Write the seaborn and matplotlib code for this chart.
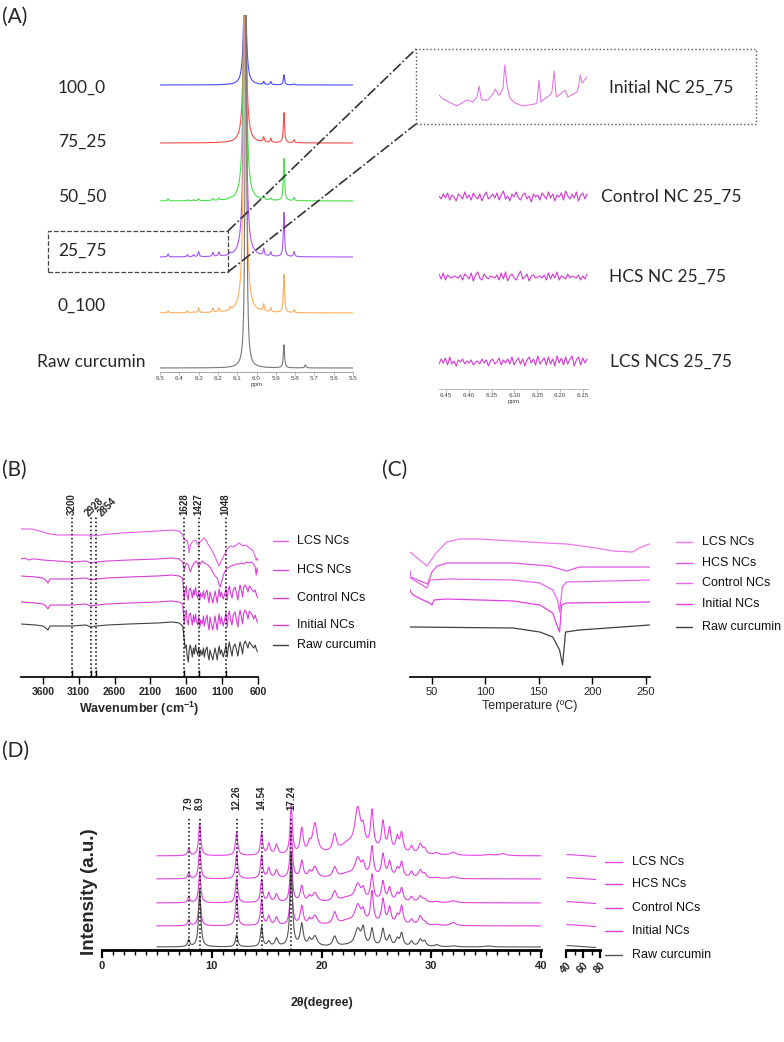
import numpy as np
import matplotlib
matplotlib.use("Agg")
import matplotlib.pyplot as plt
import seaborn as sns
from matplotlib.patches import Rectangle
from matplotlib.lines import Line2D

# ======================= DATA =======================
# ---- (A) 1H-NMR, stacked spectra ----
nmr_labels = ["100_0", "75_25", "50_50", "25_75", "0_100", "Raw curcumin"]
nmr_main_ppm = [6.06, 6.06, 6.06, 6.06, 6.06, 6.055]
nmr_main_height = [120, 200, 300, 300, 350, 500]
nmr_minor_ppm = [6.458, 6.358, 6.326, 6.300, 6.226, 6.195, 6.137, 5.963, 5.926, 5.858, 5.805, 5.747]
nmr_minor_100_0 = [0, 0, 0, 0, 0, 0, 0, 3, 3, 10, 1, 0]
nmr_minor_75_25 = [0, 0, 0, 0, 0, 0, 0, 5, 4, 30, 3, 0]
nmr_minor_50_50 = [2, 1, 1, 2, 2, 2, 1, 3, 2, 42, 3, 0]
nmr_minor_25_75 = [3, 2, 2, 5, 4, 4, 2, 7, 4, 44, 5, 0]
nmr_minor_0_100 = [2, 2, 1, 5, 4, 4, 3, 7, 4, 38, 3, 0]
nmr_minor_raw = [0, 0, 0, 0, 0, 0, 0, 0, 0, 23, 0, 3]
nmr_ticks = [6.5, 6.4, 6.3, 6.2, 6.1, 6.0, 5.9, 5.8, 5.7, 5.6, 5.5]

# ---- (A) zoomed 25_75 region ----
inset_labels = ["Initial NC 25_75", "Control NC 25_75", "HCS NC 25_75", "LCS NCS 25_75"]
ini_ppm = [6.465, 6.456, 6.426, 6.404, 6.391, 6.382, 6.377, 6.373, 6.371, 6.358,
           6.347, 6.342, 6.336, 6.332, 6.325, 6.321, 6.316, 6.310, 6.299, 6.281,
           6.255, 6.251, 6.246, 6.242, 6.240, 6.222, 6.218, 6.213, 6.209, 6.207,
           6.189, 6.183, 6.163, 6.159, 6.156, 6.152, 6.141]
ini_val = [5, 1, -6, 0, -2, 3, 14, 2, 0, 0,
           6, 11, 6, 5, 12, 35, 14, 2, -3, -6,
           -4, -3, 20, -2, -1, 5, 8, 29, 5, 3,
           10, 3, 8, 15, 25, 17, 23]
ctrl_noise = [1, -2, 3, -1, 4, -3, 2, 0, -4, 3, 1, -2, 5, -1, 2, -3, 4, 0, -2, 3,
              -4, 1, 5, -2, 0, 3, -1, 4, -3, 2, 6, -2, 1, -4, 3, 0, 5, -1, -3, 2,
              4, -2, 1, -5, 3, 0, 2, -3, 4, 1, -2, 5, -1, 3, -4, 2, 0, 4, -3, 6,
              1, -2, 3, -1, 5, -4, 2, 4, -2, 3]
hcs_noise = [3, -2, 4, -3, 2, 0, -1, 1, 0, -1, 2, -3, 3, 1, -2, 4, -4, 2, 5, -1,
             -3, 3, 0, -2, 1, 0, -1, 2, -3, 4, -2, 5, -4, 1, 3, -1, -3, 2, 6, -2,
             0, 3, -4, 1, 2, -1, 0, 1, -1, 2, -3, 4, -2, 3, -1, 5, -3, 1, 0, -2,
             3, -1, 1, 0, -1, 2, -3, 1, -2, 3]
lcs_noise = [-2, 3, -1, 4, -3, 5, -2, 1, -4, 2, 0, 3, -2, 1, -1, 2, -3, 0, 1, -2,
             3, -1, 2, -4, 1, 3, -2, 0, 4, -3, 2, -1, 3, -2, 5, -3, 1, 4, -2, 3,
             -4, 2, 5, -1, 3, -3, 6, -2, 1, 4, -3, 5, -2, 3, -4, 6, -1, 4, -3, 5,
             -2, 3, 6, -4, 2, 5, -3, 4, -1, 3]
inset_ticks = [6.45, 6.40, 6.35, 6.30, 6.25, 6.20, 6.15]

# ---- (B) FTIR ----
ftir_labels = ["LCS NCs", "HCS NCs", "Control NCs", "Initial NCs", "Raw curcumin"]
ftir_marks = [3200, 2928, 2854, 1628, 1427, 1048]
ftir_ticks = [3600, 3100, 2600, 2100, 1600, 1100, 600]
ftir_wn_lcs = [3905, 3750, 3650, 3500, 3400, 3000, 2960, 2928, 2900, 2854,
               2800, 2500, 2000, 1800, 1700, 1660, 1628, 1610, 1590, 1572,
               1560, 1545, 1530, 1500, 1470, 1450, 1427, 1410, 1380, 1349,
               1320, 1300, 1270, 1240, 1210, 1180, 1155, 1141, 1120, 1085,
               1048, 1030, 1000, 974, 940, 900, 863, 830, 808, 780,
               752, 720, 697, 670, 641, 625, 613, 600]
ftir_lcs = [0, 0, -2, -5, -6, -6, -6, -8, -6, -7,
            -6, -4, -2, -1, -2, -5, -10, -12, -11, -17,
            -24, -17, -14, -12, -11, -14, -17, -13, -11, -9,
            -12, -15, -18, -22, -26, -31, -35, -37, -33, -28,
            -23, -20, -18, -17, -18, -16, -14, -16, -17, -16,
            -17, -19, -20, -22, -27, -31, -29, -32]
ftir_wn_hcs = [3905, 3850, 3800, 3750, 3700, 3600, 3400, 3200, 3000, 2928,
               2854, 2700, 2400, 2000, 1800, 1700, 1650, 1628, 1600, 1572,
               1544, 1516, 1488, 1460, 1440, 1427, 1400, 1380, 1349, 1300,
               1260, 1230, 1200, 1169, 1141, 1127, 1100, 1085, 1048, 1030,
               1000, 974, 940, 900, 863, 830, 800, 760, 720, 697,
               670, 641, 625, 613, 600]
ftir_hcs = [0, 1, -1, 0, 0, -1, -2, -3, -2, -4,
            -3, -2, -1, 0, 1, 0, -3, -11, -4, -6,
            -13, -7, -4, -2, -5, -8, -4, -2, -4, -6,
            -9, -13, -17, -19, -26, -28, -21, -16, -11, -9,
            -8, -7, -6, -5, -5, -4, -5, -3, -4, -3,
            -4, -8, -16, -9, -13]
ftir_wn_fp = [3905, 3700, 3600, 3560, 3530, 3500, 3400, 3200, 3000, 2928,
              2854, 2700, 2400, 2000, 1800, 1700, 1650, 1628, 1615, 1600,
              1590, 1572, 1560, 1544, 1530, 1516, 1500, 1488, 1470, 1460,
              1440, 1427, 1410, 1400, 1380, 1360, 1349, 1330, 1310, 1300,
              1282, 1270, 1250, 1230, 1210, 1200, 1180, 1169, 1155, 1141,
              1127, 1110, 1085, 1060, 1048, 1030, 1015, 1000, 980, 962,
              945, 920, 900, 880, 863, 850, 830, 815, 800, 780,
              760, 740, 720, 700, 680, 660, 640, 620, 600]
ftir_control = [0, -1, -2, -4, -7, -3, -3, -3, -2, -4,
                -3, -2, -1, 0, 1, 0, -2, -24, -14, -10,
                -19, -24, -14, -12, -16, -22, -14, -19, -11, -18,
                -22, -16, -24, -17, -21, -15, -23, -17, -14, -20,
                -27, -16, -21, -27, -20, -15, -22, -27, -19, -13,
                -21, -16, -23, -17, -12, -24, -14, -10, -18, -22,
                -14, -11, -17, -24, -14, -9, -15, -21, -12, -9,
                -12, -16, -10, -12, -14, -16, -14, -19, -22]
ftir_initial = [0, -1, -2, -4, -7, -3, -3, -3, -2, -4,
                -3, -2, -1, 0, 1, 0, -2, -22, -12, -8,
                -18, -23, -13, -11, -17, -23, -13, -20, -12, -19,
                -23, -15, -25, -18, -22, -14, -24, -18, -13, -21,
                -28, -15, -22, -28, -19, -14, -23, -28, -18, -12,
                -22, -15, -24, -16, -11, -25, -13, -9, -19, -23,
                -13, -10, -18, -25, -13, -8, -16, -22, -11, -8,
                -11, -17, -9, -11, -13, -17, -13, -18, -21]
ftir_raw = [0, -1, -2, -4, -6, -2, -2, -2, -1, -3,
            -2, -1, 0, 1, 2, 1, -2, -16, -24, -21,
            -31, -38, -26, -21, -26, -33, -24, -30, -21, -26,
            -31, -24, -32, -26, -31, -24, -33, -26, -23, -30,
            -36, -26, -31, -36, -28, -24, -31, -36, -28, -22,
            -30, -26, -33, -26, -21, -33, -24, -18, -26, -32,
            -23, -20, -26, -32, -23, -18, -24, -30, -21, -17,
            -20, -24, -18, -20, -22, -24, -21, -26, -28]

# ---- (C) DSC ----
dsc_ticks = [50, 100, 150, 200, 250]
dsc_t_lcs = [29.5, 45.4, 54.7, 64, 76, 95, 126, 157, 176, 204, 219, 237.5, 244, 253.5]
dsc_lcs = [0, -14, 0, 10, 13, 13, 11, 9, 8, 4, 1, 0, 4, 8]
dsc_t_hcs = [29.5, 30.0, 46, 50, 55, 64, 126, 160, 176, 188, 253.5]
dsc_hcs = [-4, -10, -17, -5, 1, 4, 4, 1, -4, 0, 0]
dsc_t_control = [29.5, 30.0, 45.4, 48.2, 64, 126, 151, 163, 167.6, 169.4, 172, 176, 253.5]
dsc_control = [8, 2, -8, 0, 1, 0, -3, -10, -20, -32, -7, -2, 0]
dsc_t_initial = [29.5, 30.4, 32.3, 41.6, 48, 50, 51.9, 64, 126, 151, 163, 167.6, 169.4, 171.3, 176, 253.5]
dsc_initial = [12, 10, 7, 2, -1, -3, 2, 3, 1, -3, -11, -25, -30, -3, -1, 0]
dsc_t_raw = [29.5, 126, 151, 163, 169.4, 172.2, 175, 188, 253.5]
dsc_raw = [0, -1, -5, -10, -23, -38, -5, -3, 2]

# ---- (D) XRD ----
xrd_marks = [7.9, 8.9, 12.26, 14.54, 17.24]
xrd_mark_labels = ["7.9", "8.9", "12.26", "14.54", "17.24"]
xrd_pos = [7.9, 8.9, 12.26, 14.54, 15.2, 15.9, 17.24, 18.2, 18.9, 19.4, 21.2, 22.3, 23.3, 23.8,
           24.6, 25.6, 26.2, 26.9, 27.3, 28.2, 29.0, 29.4, 30.5, 32.0, 35.2, 36.5, 24.0]
xrd_width = [0.11, 0.12, 0.12, 0.12, 0.14, 0.16, 0.12, 0.16, 0.14, 0.26, 0.20, 0.60, 0.32, 0.16,
             0.15, 0.16, 0.16, 0.16, 0.16, 0.16, 0.20, 0.16, 0.25, 0.30, 0.35, 0.35, 2.50]
xrd_lcs = [7, 32, 23, 22, 11, 10, 50, 25, 8, 30, 17, 6, 40, 15, 37, 28, 22, 14, 19, 7, 10, 5, 2, 3, 1, 2, 6]
xrd_hcs = [6, 30, 25, 23, 10, 8, 50, 17, 5, 11, 10, 3, 18, 10, 29, 22, 15, 8, 15, 6, 8, 4, 1, 2, 0, 0, 2]
xrd_control = [6, 30, 24, 23, 9, 8, 50, 16, 5, 9, 10, 3, 16, 9, 25, 19, 13, 7, 13, 5, 6, 3, 1, 2, 0, 0, 2]
xrd_initial = [6, 30, 29, 26, 9, 8, 50, 19, 5, 9, 12, 3, 18, 10, 31, 24, 16, 8, 18, 5, 9, 3, 1, 3, 0, 0, 2]
xrd_raw = [7, 57, 12, 20, 5, 8, 93, 22, 6, 10, 10, 1, 17, 16, 17, 17, 10, 7, 13, 5, 7, 5, 2, 1, 1, 0, 0]
xrd_tail_x = [41, 75]
xrd_tail_vals = [1.5, -0.5]
xrd_ticks = [0, 10, 20, 30, 40]
xrd_ticks2 = [40, 60, 80]

# ======================= STYLE / LAYOUT =======================
sns.set_theme(style="ticks")
plt.rcParams['font.family'] = ['Liberation Sans', 'DejaVu Sans']
plt.rcParams['mathtext.fontset'] = 'custom'
plt.rcParams['mathtext.rm'] = 'Liberation Sans'
plt.rcParams['mathtext.bf'] = 'Liberation Sans:bold'
CAL = ['Lato', 'DejaVu Sans']

W, H = 784, 1042
fig = plt.figure(figsize=(W / 100, H / 100), dpi=100)
fig.patch.set_facecolor('white')


def fx(x):
    return x / W


def fy(y):
    return 1 - y / H


def add_ax(x0, y0, x1, y1):
    ax = fig.add_axes([fx(x0), fy(y1), (x1 - x0) / W, (y1 - y0) / H])
    ax.patch.set_alpha(0)
    for s in ('left', 'right', 'top'):
        ax.spines[s].set_visible(False)
    ax.set_yticks([])
    return ax


def draw(ax, x, y, color, lw=0.8):
    sns.lineplot(x=np.asarray(x, float), y=np.asarray(y, float), ax=ax, color=color,
                 linewidth=lw, estimator=None, sort=False, legend=False)


def lorentz(x, centers, heights, widths):
    y = np.zeros_like(x)
    for c, h, w in zip(centers, heights, widths):
        y = y + h * w ** 2 / ((x - c) ** 2 + w ** 2)
    return y


def fig_line(x0, y0, x1, y1, **kw):
    fig.add_artist(Line2D([fx(x0), fx(x1)], [fy(y0), fy(y1)], transform=fig.transFigure, **kw))


def manual_legend(labels, colors, xl0, xl1, xt, ys, fs):
    for lab, c, y in zip(labels, colors, ys):
        fig_line(xl0, y, xl1, y, color=c, lw=1.0)
        fig.text(fx(xt), fy(y), lab, ha='left', va='center', fontsize=fs, color='#111')


MAG = '#e040e0'
RAWC = '#404040'

# ======================= (A) NMR =======================
fig.text(fx(2), fy(17), "(A)", fontsize=15, family=CAL, va='center', ha='left')
axA = add_ax(160, 15, 353, 372)
ppm = np.linspace(6.5, 5.5, 3001)
nmr_minor = [nmr_minor_100_0, nmr_minor_75_25, nmr_minor_50_50, nmr_minor_25_75, nmr_minor_0_100, nmr_minor_raw]
nmr_colors = ['#4a4aff', '#ff4a4a', '#4ae04a', '#a855f7', '#ffad5c', '#777777']
nmr_offsets = [287, 229, 171, 115, 59, 4]
nmr_main_w = [0.0075, 0.0078, 0.0078, 0.0078, 0.0078, 0.0042]
for i in range(6):
    centers = [nmr_main_ppm[i]] + nmr_minor_ppm
    heights = [nmr_main_height[i]] + nmr_minor[i]
    widths = [nmr_main_w[i]] + [0.0037] * len(nmr_minor_ppm)
    spec = nmr_offsets[i] + lorentz(ppm, centers, heights, widths)
    draw(axA, ppm, spec, nmr_colors[i], 0.8)
axA.set_xlim(6.5, 5.5)
axA.set_ylim(0, 357)
axA.set_xticks(nmr_ticks)
axA.set_xticklabels([f"{t:.1f}" for t in nmr_ticks])
axA.spines['bottom'].set_color('#999')
axA.spines['bottom'].set_linewidth(0.6)
axA.tick_params(axis='x', length=2, width=0.5, color='#999', labelsize=4.5, labelcolor='#444', pad=1)
axA.set_xlabel('ppm', fontsize=4.5, color='#444', labelpad=0.5)

nmr_label_x = [58, 58, 58, 58, 58, 37]
nmr_label_y = [88, 142, 197, 251, 306, 362]
for lab, x, y in zip(nmr_labels, nmr_label_x, nmr_label_y):
    fig.text(fx(x), fy(y), lab, fontsize=12.5, family=CAL, ha='left', va='center')

# dashed selection box and connectors
fig.add_artist(Rectangle((fx(48), fy(272)), 180 / W, 41 / H, transform=fig.transFigure,
                         fill=False, ls='--', lw=0.9, ec='#444'))
fig.add_artist(Rectangle((fx(416), fy(124)), 340 / W, 75 / H, transform=fig.transFigure,
                         fill=False, ls=':', lw=1.0, ec='#555'))
fig_line(228, 231, 416, 49, color='#333', lw=1.2, ls='-.')
fig_line(228, 272, 416, 124, color='#333', lw=1.2, ls='-.')

# zoomed insets
axI = add_ax(439, 40, 588, 389)
draw(axI, ini_ppm, np.array(ini_val) + 289, '#e57ae5', 0.8)
for noise, off in zip([ctrl_noise, hcs_noise, lcs_noise], [192, 112, 27]):
    xx = np.linspace(6.465, 6.141, len(noise))
    draw(axI, xx, np.array(noise) + off, '#d23ad2', 0.8)
axI.set_xlim(6.465, 6.139)
axI.set_ylim(0, 349)
axI.set_xticks(inset_ticks)
axI.set_xticklabels([f"{t:.2f}" for t in inset_ticks])
axI.spines['bottom'].set_color('#aaa')
axI.spines['bottom'].set_linewidth(0.6)
axI.tick_params(axis='x', length=2, width=0.5, color='#aaa', labelsize=4.5, labelcolor='#444', pad=1)
axI.set_xlabel('ppm', fontsize=4.5, color='#444', labelpad=0.5)
inset_lab_x = [609, 601, 609, 610]
inset_lab_y = [88, 197, 277, 362]
for lab, x, y in zip(inset_labels, inset_lab_x, inset_lab_y):
    fig.text(fx(x), fy(y), lab, fontsize=12.5, family=CAL, ha='left', va='center')

# ======================= (B) FTIR =======================
fig.text(fx(2), fy(470), "(B)", fontsize=15, family=CAL, va='center', ha='left')
axB = add_ax(21, 488, 258, 677)
ftir_sets = [(ftir_wn_lcs, ftir_lcs, 148, '#e65ce6'),
             (ftir_wn_hcs, ftir_hcs, 118, '#dd44dd'),
             (ftir_wn_fp, ftir_control, 101, '#d63bd6'),
             (ftir_wn_fp, ftir_initial, 75, '#d63bd6'),
             (ftir_wn_fp, ftir_raw, 53, RAWC)]
for wn, val, off, c in ftir_sets:
    draw(axB, wn, np.array(val) + off, c, 0.8)
axB.vlines(ftir_marks, 0, 160, colors='black', linestyles=':', lw=1.1)
for m in ftir_marks:
    if m == 2928:
        rot, dx = 45, -3.0
    elif m == 2854:
        rot, dx = 45, 2.5
    else:
        rot, dx = 90, 0
    axB.annotate(str(m), xy=(m, 162), xytext=(dx, 0), textcoords='offset points',
                 rotation=rot, rotation_mode='anchor', ha='left', va='center',
                 fontsize=7, fontweight='bold')
axB.set_xlim(3905, 600)
axB.set_ylim(0, 189)
axB.set_xticks(ftir_ticks)
axB.set_xticklabels([str(t) for t in ftir_ticks], fontweight='bold')
axB.set_xticks(ftir_marks, minor=True)
axB.tick_params(axis='x', which='major', direction='out', length=5, width=1, labelsize=7.5, pad=2, color='black')
axB.tick_params(axis='x', which='minor', direction='in', length=5, width=1, color='black')
axB.spines['bottom'].set_color('black')
axB.set_xlabel(r"Wavenumber (cm$^{\mathbf{-1}}$)", fontsize=9, fontweight='bold', labelpad=2)
manual_legend(ftir_labels, ['#e65ce6', '#dd44dd', '#d63bd6', '#d63bd6', RAWC],
              273, 288, 297, [541, 570, 598, 625, 645], 9)

# ======================= (C) DSC =======================
fig.text(fx(382), fy(470), "(C)", fontsize=15, family=CAL, va='center', ha='left')
axC = add_ax(410, 520, 650, 677)
dsc_sets = [(dsc_t_lcs, dsc_lcs, 125, '#ee77ee'),
            (dsc_t_hcs, dsc_hcs, 110, '#e055e0'),
            (dsc_t_control, dsc_control, 97, '#e866e8'),
            (dsc_t_initial, dsc_initial, 75, '#e040e0'),
            (dsc_t_raw, dsc_raw, 50, RAWC)]
for t, val, off, c in dsc_sets:
    draw(axC, t, np.array(val) + off, c, 0.9)
axC.set_xlim(29.5, 254)
axC.set_ylim(0, 157)
axC.set_xticks(dsc_ticks)
axC.tick_params(axis='x', direction='out', length=5, width=1, labelsize=8, pad=2, color='black')
axC.spines['bottom'].set_color('black')
axC.set_xlabel("Temperature (ºC)", fontsize=9, labelpad=2)
manual_legend(ftir_labels, ['#ee77ee', '#e055e0', '#e866e8', '#e040e0', RAWC],
              676, 692, 702, [542, 563, 583, 604, 627], 9)

# ======================= (D) XRD =======================
fig.text(fx(2), fy(751), "(D)", fontsize=15, family=CAL, va='center', ha='left')
axD = add_ax(102, 770, 541, 950)
tt = np.linspace(5, 40, 4001)
xrd_sets = [(xrd_lcs, 94, '#e844e8'), (xrd_hcs, 71, MAG), (xrd_control, 47, MAG),
            (xrd_initial, 24, MAG), (xrd_raw, 3, '#555555')]
for hts, off, c in xrd_sets:
    draw(axD, tt, off + lorentz(tt, xrd_pos, hts, xrd_width), c, 0.8)
axD.vlines(xrd_marks, 0, 132, colors='black', linestyles=':', lw=1.1)
for m, lab in zip(xrd_marks, xrd_mark_labels):
    axD.text(m, 140, lab, rotation=90, rotation_mode='anchor', ha='left', va='center',
             fontsize=7, fontweight='bold')
axD.set_xlim(0, 40)
axD.set_ylim(0, 180)
axD.set_xticks(xrd_ticks)
axD.set_xticklabels([str(t) for t in xrd_ticks], fontweight='bold')
axD.set_xticks(np.arange(0, 41, 1), minor=True)
axD.tick_params(axis='x', which='major', direction='out', length=6, width=1.6, labelsize=8, pad=2, color='black')
axD.tick_params(axis='x', which='minor', direction='out', length=3.5, width=1.0, color='black')
axD.spines['bottom'].set_linewidth(2)
axD.spines['bottom'].set_color('black')

axD2 = add_ax(566, 770, 600, 950)
for hts, off, c in xrd_sets:
    draw(axD2, xrd_tail_x, np.array(xrd_tail_vals) + off, c, 0.8)
axD2.set_xlim(40, 80)
axD2.set_ylim(0, 180)
axD2.set_xticks(xrd_ticks2)
axD2.set_xticklabels([str(t) for t in xrd_ticks2], fontweight='bold', rotation=45)
axD2.set_xticks([50, 70], minor=True)
axD2.tick_params(axis='x', which='major', direction='out', length=6, width=1.6, labelsize=7.5, pad=1, color='black')
axD2.tick_params(axis='x', which='minor', direction='out', length=3.5, width=1.0, color='black')
axD2.spines['bottom'].set_linewidth(2)
axD2.spines['bottom'].set_color('black')

fig.text(fx(90), fy(892), "Intensity (a.u.)", rotation=90, ha='center', va='center',
         fontsize=13.5, fontweight='bold')
fig.text(fx(322), fy(1003), "2θ(degree)", ha='center', va='center', fontsize=9, fontweight='bold')
manual_legend(ftir_labels, ['#e844e8', MAG, MAG, MAG, '#555555'],
              605, 622, 632, [862, 884, 908, 931, 955], 9)

fig.savefig("out.png", dpi=100, facecolor='white')
